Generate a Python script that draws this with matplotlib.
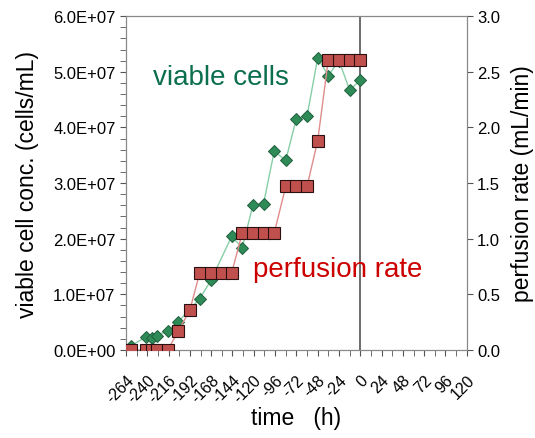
import matplotlib
matplotlib.use("Agg")
import matplotlib.pyplot as plt
from matplotlib.ticker import MultipleLocator, FormatStrFormatter, FuncFormatter

plt.rcParams['font.family'] = ['Liberation Sans', 'DejaVu Sans']

# 活细胞浓度 (cells/mL)
cell_time = [-258, -241, -235, -229, -217, -205, -181, -168, -145, -133, -121, -109,
             -97, -84, -72, -60, -48, -36, -24, -12, 0]
cell_conc = [0.08e7, 0.24e7, 0.21e7, 0.26e7, 0.35e7, 0.51e7, 0.92e7, 1.26e7, 2.04e7,
             1.84e7, 2.60e7, 2.63e7, 3.57e7, 3.41e7, 4.16e7, 4.20e7, 5.25e7, 4.93e7,
             5.20e7, 4.67e7, 4.85e7]

# 灌流速率 (mL/min)
perf_time = [-258, -241, -235, -229, -217, -205, -192, -181, -168, -156, -145, -133,
             -121, -109, -97, -84, -72, -60, -48, -36, -24, -12, 0]
perf_rate = [0, 0, 0, 0, 0, 0.17, 0.36, 0.69, 0.69, 0.69, 0.69, 1.05,
             1.05, 1.05, 1.05, 1.47, 1.47, 1.47, 1.88, 2.61, 2.61, 2.61, 2.61]

x_ticks = list(range(-264, 121, 24))


def main():
    fig = plt.figure(figsize=(5.35, 4.39), dpi=100)
    ax = fig.add_axes([0.2355, 0.2005, 0.637, 0.7605])
    ax2 = ax.twinx()

    # 细胞曲线
    ax.plot(cell_time, cell_conc, color='#86cfa6', lw=1.0, marker='D', ms=6.5,
            mfc='#2e8b57', mec='#1f5e3c', mew=0.7, zorder=3)
    ax.axvline(0, color='#444444', lw=1.1, zorder=2)

    # 灌流曲线
    ax2.plot(perf_time, perf_rate, color='#e08c8c', lw=1.0, marker='s', ms=8.5,
             mfc='#c0504d', mec='#2a1010', mew=0.8, zorder=3)

    ax.set_xlim(-264, 120)
    ax.set_ylim(0, 6e7)
    ax2.set_ylim(0, 3.0)

    ax.xaxis.set_minor_locator(MultipleLocator(12))
    ax.set_xticks(x_ticks)
    ax.set_xticklabels([str(t) for t in x_ticks], rotation=45, ha='right',
                       rotation_mode='anchor', fontsize=11.5)

    ax.yaxis.set_major_locator(MultipleLocator(1e7))
    ax.yaxis.set_minor_locator(MultipleLocator(2e6))
    ax.yaxis.set_major_formatter(FuncFormatter(lambda v, p: '%.1E' % v))
    ax.tick_params(axis='y', labelsize=12)
    ax.tick_params(which='both', direction='out', color='#555555', length=4)
    ax.tick_params(axis='x', which='both', length=4, pad=12)

    ax2.yaxis.set_major_locator(MultipleLocator(0.5))
    ax2.yaxis.set_major_formatter(FormatStrFormatter('%.1f'))
    ax2.tick_params(axis='y', labelsize=12, direction='out', color='#555555', length=4)

    for a in (ax, ax2):
        for s in a.spines.values():
            s.set_color('#888888')

    ax.set_ylabel('viable cell conc. (cells/mL)', fontsize=16.5, labelpad=10)
    ax2.set_ylabel('perfusion rate (mL/min)', fontsize=16.5, labelpad=8)
    ax.set_xlabel('time   (h)', fontsize=16.5, labelpad=0)

    ax.text(-234, 4.9e7, 'viable cells', color='#0b6e4f', fontsize=20, va='center')
    ax.text(-121, 1.45e7, 'perfusion rate', color='#cc0000', fontsize=20, va='center')

    fig.savefig('out.png', dpi=100)


if __name__ == "__main__":
    main()
